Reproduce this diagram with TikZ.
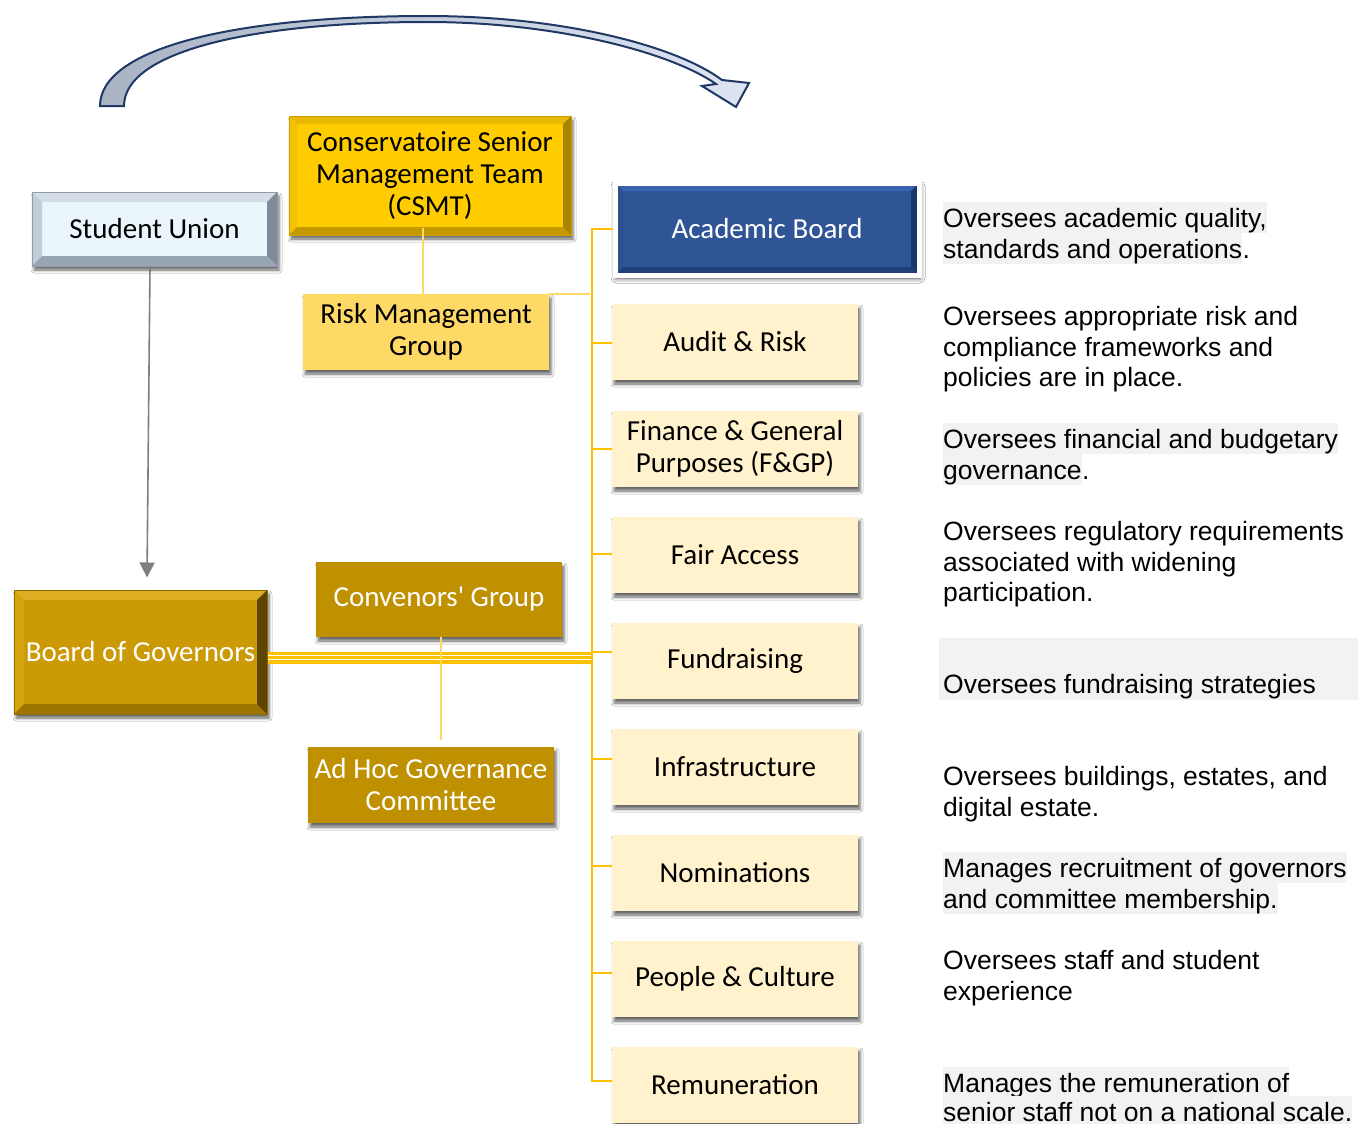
\documentclass[tikz,border=0pt]{standalone}
\usepackage{fontspec}
\setmainfont{Carlito}[Ligatures=TeXOff]
\newfontfamily\arialfont{Liberation Sans}
\usetikzlibrary{arrows.meta,shadows.blur}
\definecolor{navy}{HTML}{1F3864}
\definecolor{arrL}{HTML}{A9B3C4}
\definecolor{arrR}{HTML}{DDE5F3}
\definecolor{gold}{HTML}{FFC000}
\definecolor{lgold}{HTML}{FFD966}
\definecolor{cream}{HTML}{FFF2CC}
\definecolor{dgold}{HTML}{BF9000}
\definecolor{hlgray}{HTML}{F2F2F2}
\definecolor{abblue}{HTML}{2F5597}
\definecolor{grline}{HTML}{7F7F7F}
\definecolor{suface}{HTML}{EAF6FC}
\definecolor{suT}{HTML}{D5DEE6}
\definecolor{suL}{HTML}{C2CDD8}
\definecolor{suB}{HTML}{98A6B3}
\definecolor{suR}{HTML}{7D8A97}
\definecolor{suO}{HTML}{8F9CA8}
\definecolor{csface}{HTML}{FFCC00}
\definecolor{csT}{HTML}{E8B900}
\definecolor{csL}{HTML}{F2C200}
\definecolor{csB}{HTML}{C49A00}
\definecolor{csR}{HTML}{A88400}
\definecolor{csO}{HTML}{C9A000}
\definecolor{abT}{HTML}{3764AE}
\definecolor{abL}{HTML}{2D5290}
\definecolor{abB}{HTML}{203F78}
\definecolor{abR}{HTML}{1B3668}
\definecolor{bgface}{HTML}{CC9A06}
\definecolor{bgT}{HTML}{DDAE22}
\definecolor{bgL}{HTML}{D6A50F}
\definecolor{bgB}{HTML}{9C7600}
\definecolor{bgR}{HTML}{5C4500}
\definecolor{bgO}{HTML}{8C6A00}
\tikzset{
  bevel/.style n args={5}{path picture={
    \coordinate (bNW) at (path picture bounding box.north west);
    \coordinate (bNE) at (path picture bounding box.north east);
    \coordinate (bSW) at (path picture bounding box.south west);
    \coordinate (bSE) at (path picture bounding box.south east);
    \coordinate (iNW) at ([xshift=#1,yshift=-#1]bNW);
    \coordinate (iNE) at ([xshift=-#1,yshift=-#1]bNE);
    \coordinate (iSW) at ([xshift=#1,yshift=#1]bSW);
    \coordinate (iSE) at ([xshift=-#1,yshift=#1]bSE);
    \fill[#2] (bNW)--(bNE)--(iNE)--(iNW)--cycle;
    \fill[#3] (bNW)--(iNW)--(iSW)--(bSW)--cycle;
    \fill[#4] (bSW)--(iSW)--(iSE)--(bSE)--cycle;
    \fill[#5] (bNE)--(bSE)--(iSE)--(iNE)--cycle;
  }},
  shad/.style={blur shadow={shadow xshift=2pt,shadow yshift=-4pt,shadow blur radius=3pt,shadow opacity=60}},
  box/.style={minimum width=246pt,minimum height=76pt,inner sep=0pt,align=center,
    font=\fontsize{29}{32}\selectfont,shad},
  cmt/.style={box,fill=cream,text=black},
  rtxt/.style={anchor=base west,inner sep=0pt,font=\arialfont\fontsize{26.5}{30.6}\selectfont,
    text height=25pt,text depth=6pt},
  hl/.style={rtxt,fill=hlgray},
  trunk/.style={draw=gold,line width=2.6pt},
  thinl/.style={draw=lgold,line width=2pt},
}
\begin{document}
\begin{tikzpicture}[x=1pt,y=-1pt]
\useasboundingbox (0,0) rectangle (1358,1124);
\fill[white] (0,0) rectangle (1358,1124);

% curved arrow
\draw[draw=navy,line width=2pt,left color=arrL,right color=arrR,line join=miter]
  (100,106) .. controls (100,48) and (235,16) .. (427,16)
  .. controls (560,16) and (675,45) .. (722,80)
  -- (749,83) -- (736,107) -- (702,86) -- (716,84)
  .. controls (670,52) and (555,22) .. (427,22)
  .. controls (250,22) and (124,52) .. (124,106) -- cycle;

% ---------- nodes ----------
\node[box,minimum width=245pt,minimum height=74pt,fill=suface,draw=suO,line width=1pt,
      bevel={10pt}{suT}{suL}{suB}{suR}] (su) at (154.5,229) {Student Union};
\node[box,minimum width=282pt,minimum height=119pt,fill=csface,draw=csO,line width=1pt,
      bevel={8pt}{csT}{csL}{csB}{csR}] (csmt) at (430,175.5)
      {Conservatoire Senior\\Management Team\\(CSMT)};
\node[box,fill=lgold] (rmg) at (426,332) {Risk Management\\Group};
\node[box,minimum width=304pt,minimum height=92pt,fill=abblue,draw=white,line width=5pt,text=white,
      bevel={8pt}{abT}{abL}{abB}{abR},
      blur shadow={shadow xshift=1pt,shadow yshift=-3pt,shadow blur radius=5pt,shadow opacity=40}]
      (ab) at (767,229) {Academic Board};
\node[box,minimum width=253pt,minimum height=124pt,fill=bgface,draw=bgO,line width=1pt,text=white,
      bevel={10pt}{bgT}{bgL}{bgB}{bgR}] (bog) at (140.5,652) {Board of Governors};
\node[box,minimum height=75pt,fill=dgold,text=white] (cg) at (439,599.5) {Convenors' Group};
\node[box,fill=dgold,text=white] (ahc) at (431,785) {Ad Hoc Governance\\Committee};

\node[cmt] (audit) at (735,342) {Audit \& Risk};
\node[cmt] (fgp)   at (735,449) {Finance \& General\\Purposes (F\&GP)};
\node[cmt] (fa)    at (735,555) {Fair Access};
\node[cmt] (fund)  at (735,661) {Fundraising};
\node[cmt] (infra) at (735,767) {Infrastructure};
\node[cmt] (nom)   at (735,873) {Nominations};
\node[cmt] (pc)    at (735,979) {People \& Culture};
\node[cmt] (rem)   at (735,1085) {Remuneration};

% ---------- connectors ----------
\coordinate (jA) at (592,229);
\coordinate (j2) at (592,343);
\coordinate (j3) at (592,449);
\coordinate (j4) at (592,554);
\coordinate (j5) at (592,652);
\coordinate (j6) at (592,759);
\coordinate (j7) at (592,866);
\coordinate (j8) at (592,973);
\coordinate (jR) at (592,1081);
\coordinate (jB) at (592,658);

% triple line from Board of Governors
\draw[gold,line width=12.5pt] (bog.east |- jB) -- (jB);
\draw[white,line width=1.6pt] ([yshift=2.6pt]bog.east |- jB) -- ([yshift=2.6pt]jB);
\draw[white,line width=1.6pt] ([yshift=-1.6pt]bog.east |- jB) -- ([yshift=-1.6pt]jB);

\draw[trunk] (jA -| ab.west) -- (jA) -- (jR) -- (jR -| rem.west);
\foreach \j/\n in {j2/audit,j3/fgp,j4/fa,j5/fund,j6/infra,j7/nom,j8/pc}
  \draw[trunk] (\j) -- (\j -| \n.west);

\draw[thinl] ([xshift=-7pt,yshift=8pt]csmt.south) -- ([xshift=-3pt]rmg.north);
\draw[thinl] (rmg.north east) -- ([xshift=-2pt]rmg.north east -| jA);
\draw[thinl] ([xshift=2pt]cg.south) -- ([xshift=10pt,yshift=7pt]ahc.north);

\draw[grline,line width=1.6pt,-{Triangle[length=15pt,width=15pt]}]
  ([xshift=-4.5pt]su.south) -- ([xshift=6.5pt,yshift=12pt]bog.north);

% ---------- right-hand descriptions ----------
\node[hl] (d1a) at (943,227) {Oversees academic quality,};
\node[hl] (d1b) at (943,258) {standards and operations};
\node[rtxt] (d1c) at (d1b.base east) {.};

\node[rtxt] (d2a) at (943,325) {Oversees appropriate risk and};
\node[rtxt] (d2b) at (943,356) {compliance frameworks and};
\node[rtxt] (d2c) at (943,386) {policies are in place.};

\node[hl] (d3a) at (943,448) {Oversees financial and budgetary};
\node[hl] (d3b) at (943,479) {governance};
\node[rtxt] (d3c) at (d3b.base east) {.};

\node[rtxt] (d4a) at (943,540) {Oversees regulatory requirements};
\node[rtxt] (d4b) at (943,571) {associated with widening};
\node[rtxt] (d4c) at (943,601) {participation.};

\node[fill=hlgray,minimum width=419pt,minimum height=62pt,inner sep=0pt,anchor=north west] (d5bg) at (939,638) {};
\node[rtxt] (d5a) at (943,693) {Oversees fundraising strategies};

\node[rtxt] (d6a) at (943,785) {Oversees buildings, estates, and};
\node[rtxt] (d6b) at (943,816) {digital estate.};

\node[hl] (d7a) at (943,877) {Manages recruitment of governors};
\node[hl] (d7b) at (943,908) {and committee membership.};

\node[rtxt] (d8a) at (943,969) {Oversees staff and student};
\node[rtxt] (d8b) at (943,1000) {experience};

\node[hl] (d9a) at (943,1092) {Manages the remuneration of};
\node[hl] (d9b) at (943,1121) {senior staff not on a national scale.};
\end{tikzpicture}
\end{document}
